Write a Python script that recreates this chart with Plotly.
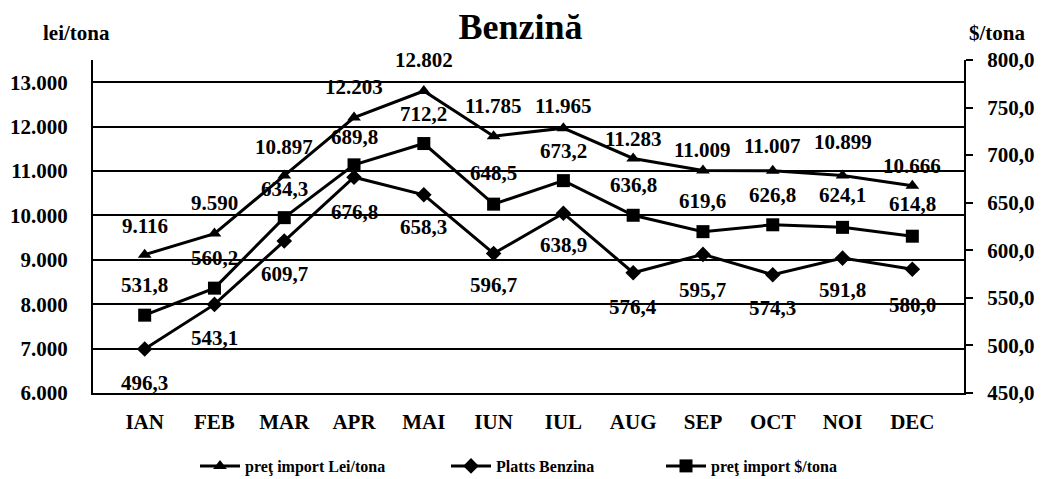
import plotly.graph_objects as go

months = ["IAN", "FEB", "MAR", "APR", "MAI", "IUN", "IUL", "AUG", "SEP", "OCT", "NOI", "DEC"]
lei_tona = [9116, 9590, 10897, 12203, 12802, 11785, 11965, 11283, 11009, 11007, 10899, 10666]
platts_usd = [496.3, 543.1, 609.7, 676.8, 658.3, 596.7, 638.9, 576.4, 595.7, 574.3, 591.8, 580.0]
import_usd = [531.8, 560.2, 634.3, 689.8, 712.2, 648.5, 673.2, 636.8, 619.6, 626.8, 624.1, 614.8]

left_ticks = [6000, 7000, 8000, 9000, 10000, 11000, 12000, 13000]
right_ticks = [450, 500, 550, 600, 650, 700, 750, 800]

# label offsets (px) -- styling only
tri_shift = [29, 31, 29, 31, 31, 30, 22, 19, 21, 25, 33, 20]
sq_shift = [30, 30, 29, 28, 30, 31, 30, 30, 31, 30, 32, 32]
dia_shift = [-34, -34, -33, -35, -32, -32, -32, -34, -36, -33, -32, -36]

FONT = "Liberation Serif"
W, H = 1041, 479
PL, PR, PT, PB = 93, 964, 60, 393  # plot area in pixels


def px_x(px):
    return (px - PL) / (PR - PL)


def px_y(py):
    return (PB - py) / (PB - PT)


def fmt_thousands(v):
    return f"{v:,.0f}".replace(",", ".")


def fmt_dec(v):
    return f"{v:.1f}".replace(".", ",")


fig = go.Figure()
fig.add_trace(go.Scatter(
    x=months, y=lei_tona, name="preţ import Lei/tona", mode="lines+markers",
    line=dict(color="black", width=3),
    marker=dict(symbol="triangle-up", size=12, color="black"),
    yaxis="y", legend="legend"))
fig.add_trace(go.Scatter(
    x=months, y=platts_usd, name="Platts Benzina", mode="lines+markers",
    line=dict(color="black", width=3),
    marker=dict(symbol="diamond", size=12, color="black"),
    yaxis="y2", legend="legend2"))
fig.add_trace(go.Scatter(
    x=months, y=import_usd, name="preţ import $/tona", mode="lines+markers",
    line=dict(color="black", width=3),
    marker=dict(symbol="square", size=13, color="black"),
    yaxis="y2", legend="legend3"))

lab_font = dict(family=FONT, size=21, color="black", weight="bold")
for m, v, s in zip(months, lei_tona, tri_shift):
    fig.add_annotation(x=m, y=v, xref="x", yref="y", text=fmt_thousands(v),
                       showarrow=False, yshift=s, font=lab_font)
for m, v, s in zip(months, import_usd, sq_shift):
    fig.add_annotation(x=m, y=v, xref="x", yref="y2", text=fmt_dec(v),
                       showarrow=False, yshift=s, font=lab_font)
for m, v, s in zip(months, platts_usd, dia_shift):
    fig.add_annotation(x=m, y=v, xref="x", yref="y2", text=fmt_dec(v),
                       showarrow=False, yshift=s, font=lab_font)

fig.add_annotation(text="lei/tona", xref="paper", yref="paper", x=px_x(76), y=px_y(33),
                   showarrow=False, xanchor="center", yanchor="middle",
                   font=dict(family=FONT, size=21, color="black", weight="bold"))
fig.add_annotation(text="$/tona", xref="paper", yref="paper", x=px_x(997), y=px_y(33),
                   showarrow=False, xanchor="center", yanchor="middle",
                   font=dict(family=FONT, size=21, color="black", weight="bold"))

leg_font = dict(family=FONT, size=16, color="black", weight="bold")
leg_common = dict(orientation="h", xanchor="left", yanchor="middle", y=px_y(466),
                  font=leg_font, bgcolor="rgba(0,0,0,0)", itemwidth=40)

tick_font = dict(family=FONT, size=21, color="black", weight="bold")

fig.update_layout(
    width=W, height=H,
    margin=dict(l=PL, r=W - PR, t=PT, b=H - PB, autoexpand=False),
    paper_bgcolor="white", plot_bgcolor="white",
    title=dict(text="Benzină", x=0.5, xanchor="center", y=1 - 26 / H, yanchor="middle",
               font=dict(family=FONT, size=36, color="black", weight="bold")),
    showlegend=True,
    legend=dict(x=px_x(195), **leg_common),
    legend2=dict(x=px_x(446), **leg_common),
    legend3=dict(x=px_x(661), **leg_common),
    xaxis=dict(showline=True, linecolor="black", linewidth=2, showgrid=False,
               ticks="", ticklabelstandoff=9, automargin=False, tickfont=tick_font),
    yaxis=dict(range=[6000, 13500], tickvals=left_ticks,
               ticktext=[fmt_thousands(v) for v in left_ticks],
               showline=True, linecolor="black", linewidth=2,
               showgrid=True, gridcolor="black", gridwidth=1.5,
               ticks="", ticklabelstandoff=19, zeroline=False, automargin=False,
               tickfont=tick_font),
    yaxis2=dict(range=[450, 800], tickvals=right_ticks,
                ticktext=[fmt_dec(v) for v in right_ticks],
                overlaying="y", side="right",
                showline=True, linecolor="black", linewidth=2, showgrid=False,
                ticks="outside", ticklen=7, tickwidth=2, tickcolor="black",
                ticklabelstandoff=10, zeroline=False, automargin=False,
                tickfont=tick_font),
)

fig.write_html("out.html", config={"displayModeBar": False},
               post_script="document.body.style.margin='0px';")
